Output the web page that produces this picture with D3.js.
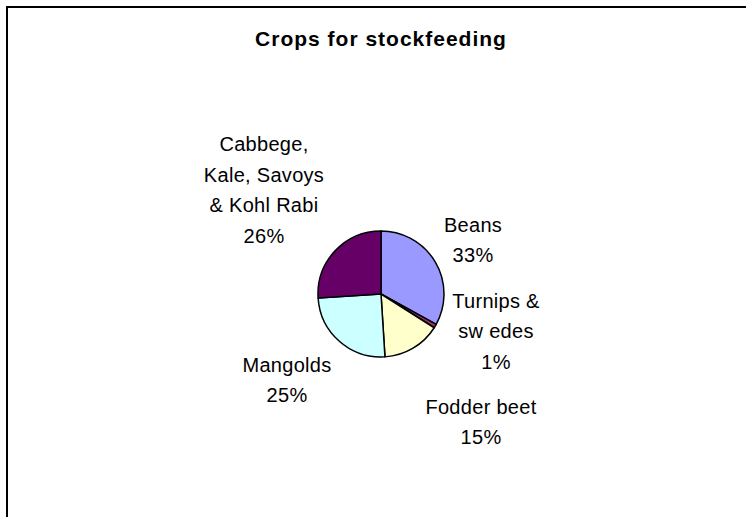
<!DOCTYPE html>
<meta charset="utf-8">
<style>
    body { margin: 0; background: #fff; }
    .label { font-family: Arial, "Liberation Sans", sans-serif; font-size: 20px; letter-spacing: 0.3px; fill: #000; }
    .title { font-family: Arial, "Liberation Sans", sans-serif; font-size: 21px; font-weight: bold; letter-spacing: 1px; }
</style>
<body>
<script src="https://d3js.org/d3.v7.min.js"></script>
<script>
    // data
    var categories = ["Beans", "Turnips & swedes", "Fodder beet", "Mangolds", "Cabbege, Kale, Savoys & Kohl Rabi"];
    var values = [33, 1, 15, 25, 26];
    var labelLines = [
        ["Beans"],
        ["Turnips &", "sw edes"],
        ["Fodder beet"],
        ["Mangolds"],
        ["Cabbege,", "Kale, Savoys", "& Kohl Rabi"]
    ];
    var colors = ["#9999ff", "#993366", "#ffffcc", "#ccffff", "#660066"];

    var width = 746,
        height = 517,
        cx = 381, cy = 294, radius = 63;

    // label block centre offsets from the pie centre (excel placement)
    var labelOffset = [[92, -54], [115, 37], [100, 128], [-94, 86], [-117, -104]];
    var lineHeight = 30.5;

    var svg = d3.select("body").append("svg")
        .attr("width", width)
        .attr("height", height);

    svg.append("rect")
        .attr("x", 7).attr("y", 7)
        .attr("width", width + 20).attr("height", height + 20)
        .attr("fill", "#fff")
        .attr("stroke", "#000")
        .attr("stroke-width", 2);

    svg.append("text")
        .attr("class", "title")
        .attr("x", cx)
        .attr("y", 46)
        .attr("text-anchor", "middle")
        .text("Crops for stockfeeding");

    var pie = d3.pie().sort(null).value(function(d) { return d; });
    var arc = d3.arc().innerRadius(0).outerRadius(radius);
    var total = d3.sum(values);

    var g = svg.append("g").attr("transform", "translate(" + cx + "," + cy + ")");

    g.selectAll(".slice")
        .data(pie(values))
        .enter().append("path")
        .attr("class", "slice")
        .attr("d", arc)
        .attr("fill", function(d, i) { return colors[i]; })
        .attr("stroke", "#000")
        .attr("stroke-width", 1.5)
        .attr("stroke-linejoin", "round");

    var labels = g.selectAll(".lbl")
        .data(pie(values))
        .enter().append("text")
        .attr("class", "label")
        .attr("text-anchor", "middle");

    labels.each(function(d, i) {
        var lines = labelLines[i].concat([Math.round(d.value / total * 100) + "%"]);
        var n = lines.length;
        var t = d3.select(this);
        lines.forEach(function(s, k) {
            t.append("tspan")
                .attr("x", labelOffset[i][0])
                .attr("y", labelOffset[i][1] + (k - (n - 1) / 2) * lineHeight + 7)
                .text(s);
        });
    });
</script>
</body>
